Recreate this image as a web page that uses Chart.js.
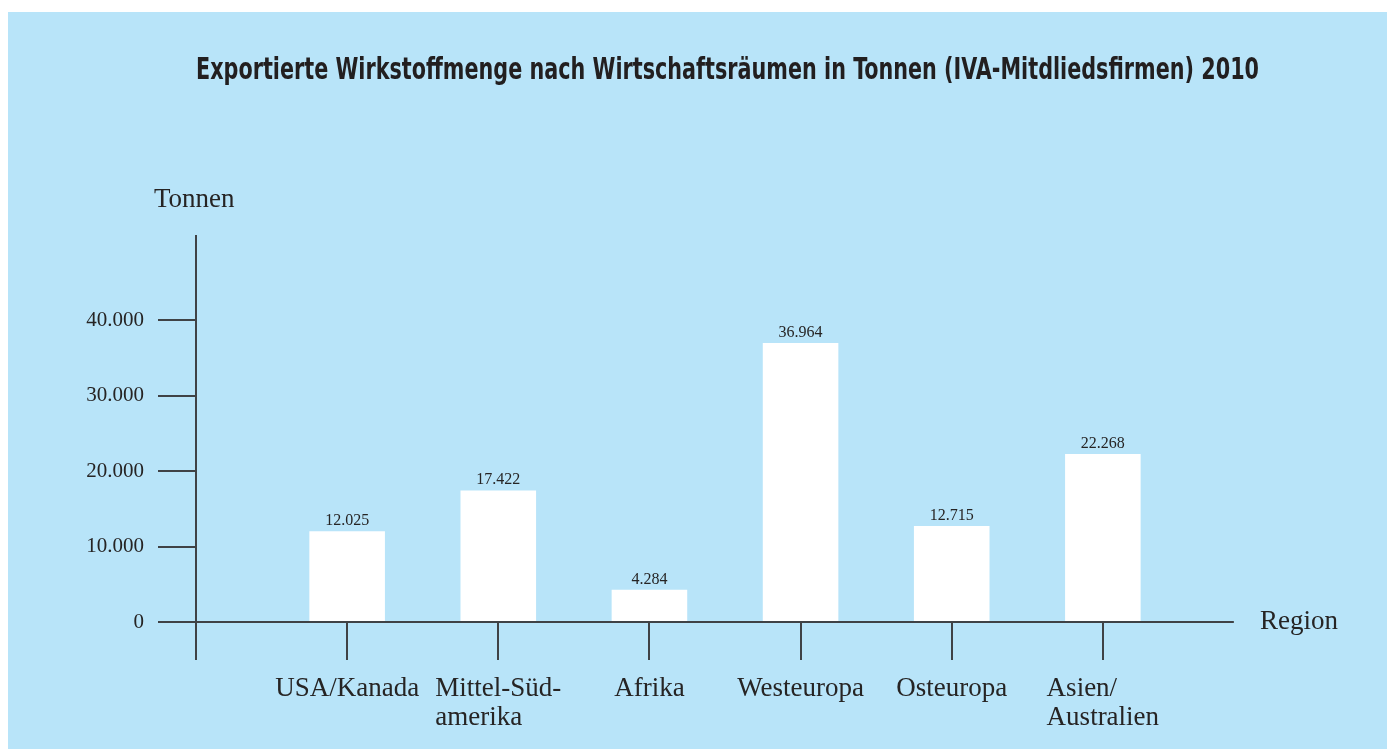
<!DOCTYPE html>
<html><head><meta charset="utf-8">
<script src="https://cdn.jsdelivr.net/npm/chart.js@4.4.1/dist/chart.umd.min.js"></script>
<style>
html,body{margin:0;padding:0;background:#fff;width:1389px;height:749px;overflow:hidden}
#panel{position:absolute;left:8px;top:12px;width:1379px;height:737px;background:#b8e4f9}
#wrap{position:absolute;left:0;top:0;width:1389px;height:749px}
</style></head><body>
<div id="panel"></div>
<div id="wrap"><canvas id="c" width="1389" height="749"></canvas></div>
<script>
const chartTitle = 'Exportierte Wirkstoffmenge nach Wirtschaftsräumen in Tonnen (IVA-Mitdliedsfirmen) 2010';
const yAxisTitle = 'Tonnen';
const xAxisTitle = 'Region';
const categories = [['USA/Kanada'], ['Mittel-Süd-', 'amerika'], ['Afrika'], ['Westeuropa'], ['Osteuropa'], ['Asien/', 'Australien']];
const values = [12025, 17422, 4284, 36964, 12715, 22268];
const yTicks = [0, 10000, 20000, 30000, 40000];

const AXIS = '#3f4246';
const TEXT = '#262424';
const SERIF = "'Liberation Serif', 'DejaVu Serif', serif";
const fmt = v => String(v).replace(/\B(?=(\d{3})+(?!\d))/g, '.');

// padded labels: empty slot at the y-axis and after the last category
const labels = [''].concat(categories.map(c => c.join(' ')), ['']);
const data = [null].concat(values, [null]);

const decor = {
  id: 'decor',
  afterDraw(chart) {
    const ctx = chart.ctx, ca = chart.chartArea;
    const xs = chart.scales.x, ys = chart.scales.y;
    const y0 = ys.getPixelForValue(0);
    ctx.save();
    ctx.strokeStyle = AXIS; ctx.lineWidth = 2;
    // x axis line
    const xEnd = xs.getPixelForValue(categories.length) + 131;
    ctx.beginPath(); ctx.moveTo(ca.left - 38, y0); ctx.lineTo(xEnd, y0); ctx.stroke();
    // y axis line (extended)
    ctx.beginPath(); ctx.moveTo(ca.left, ca.top - 85); ctx.lineTo(ca.left, y0 + 38); ctx.stroke();
    // category tick marks
    for (let i = 1; i <= categories.length; i++) {
      const px = Math.round(xs.getPixelForValue(i));
      ctx.beginPath(); ctx.moveTo(px, y0); ctx.lineTo(px, y0 + 38); ctx.stroke();
    }
    // category labels
    ctx.fillStyle = TEXT;
    ctx.font = '27px ' + SERIF;
    ctx.textAlign = 'left'; ctx.textBaseline = 'alphabetic';
    categories.forEach((lines, i) => {
      const px = xs.getPixelForValue(i + 1);
      const w = Math.max(...lines.map(l => ctx.measureText(l).width));
      lines.forEach((l, j) => ctx.fillText(l, px - w / 2, y0 + 74 + j * 29));
    });
    // axis titles
    ctx.fillText(yAxisTitle, 154, ca.top - 113);
    ctx.fillText(xAxisTitle, 1260, y0 + 7);
    // value labels
    ctx.font = '16px ' + SERIF;
    ctx.textAlign = 'center';
    const meta = chart.getDatasetMeta(0);
    meta.data.forEach((bar, i) => {
      if (data[i] == null) return;
      ctx.fillText(fmt(data[i]), bar.x, bar.y - 6);
    });
    // title (condensed bold)
    ctx.font = "bold 30px 'Liberation Sans Narrow', 'DejaVu Sans Condensed', sans-serif";
    ctx.fillStyle = '#221f20';
    ctx.textAlign = 'left';
    const tw = ctx.measureText(chartTitle).width;
    const target = 1063;
    ctx.translate(196, 79);
    ctx.scale(target / tw, 1);
    ctx.fillText(chartTitle, 0, 0);
    ctx.restore();
  }
};

new Chart(document.getElementById('c'), {
  type: 'bar',
  data: {
    labels: labels,
    datasets: [{
      data: data,
      backgroundColor: '#ffffff',
      borderWidth: 0,
      barPercentage: 1,
      categoryPercentage: 0.5,
      clip: false
    }]
  },
  options: {
    responsive: false,
    animation: false,
    maintainAspectRatio: false,
    layout: { padding: { top: 320, right: 135, bottom: 127, left: 0 } },
    plugins: { legend: { display: false }, title: { display: false }, tooltip: { enabled: false } },
    scales: {
      x: {
        type: 'category',
        offset: false,
        grid: { display: false },
        border: { display: false },
        ticks: { display: false },
        afterFit(s) { s.height = 0; }
      },
      y: {
        min: 0, max: 40000,
        afterBuildTicks(s) { s.ticks = yTicks.map(v => ({ value: v })); },
        ticks: { padding: 14, color: TEXT, font: { family: SERIF, size: 21 }, callback: v => fmt(v) },
        grid: { display: true, drawOnChartArea: false, drawTicks: true, tickLength: 38, color: AXIS, lineWidth: 2 },
        border: { display: true, color: AXIS, width: 2 },
        afterFit(s) { s.width = 196; }
      }
    }
  },
  plugins: [decor]
});
</script>
</body></html>
